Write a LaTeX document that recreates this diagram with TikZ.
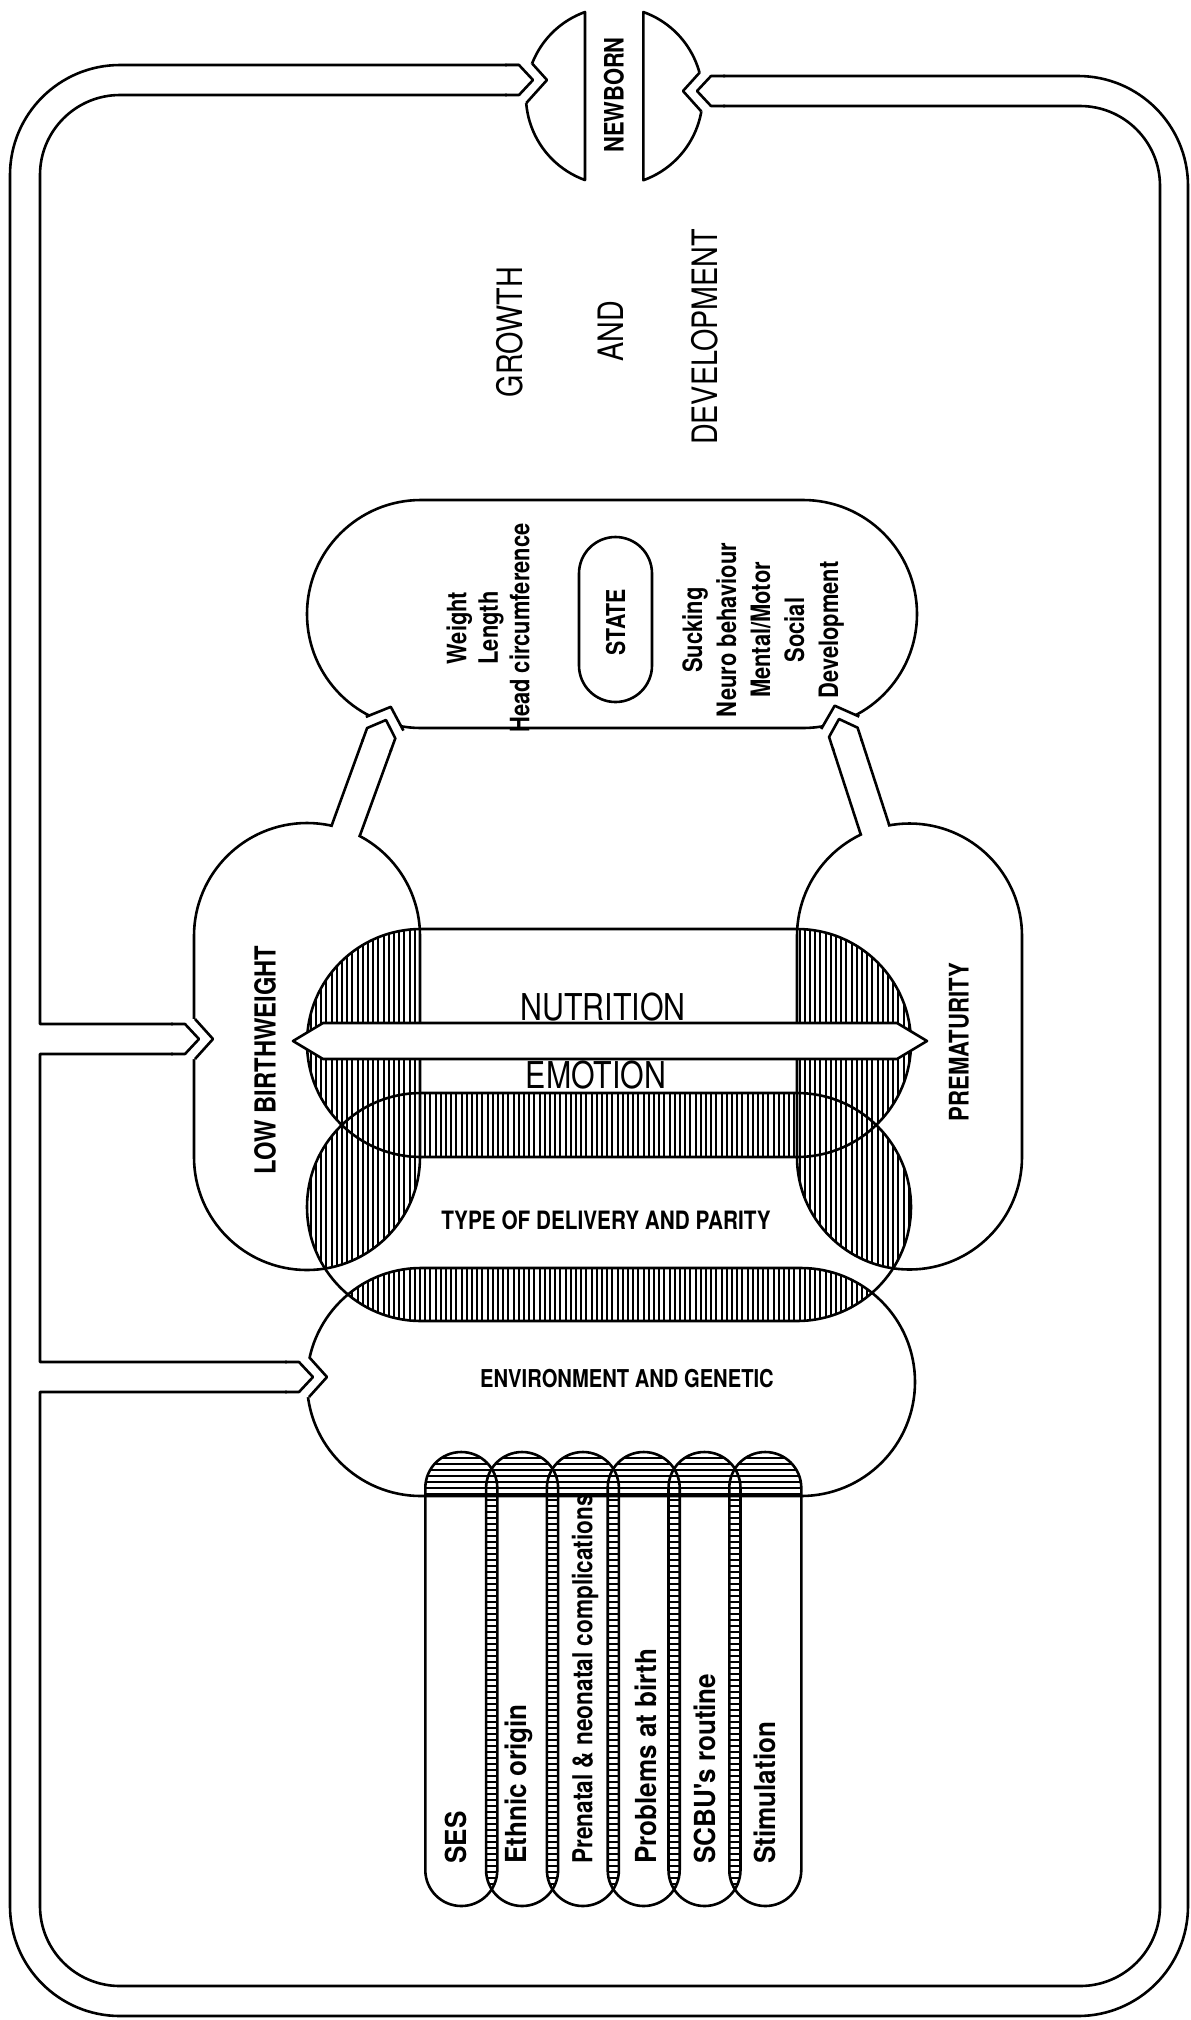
\documentclass[tikz,border=0pt]{standalone}
\usepackage{fontspec}
\setmainfont{TeX Gyre Heros}
\newfontfamily\narrowfont{TeX Gyre Heros}[FakeStretch=0.82]
\newfontfamily\fingerfont{TeX Gyre Heros}[FakeStretch=0.9]
\newcommand{\fsz}[2]{\fontsize{#1}{#2}\selectfont}
% stadium shapes: horizontal (xl, xr, yc, r) and vertical (cx, ytop, ybot, r)
\newcommand{\hstad}[4]{(#1,#3-#4) -- (#2,#3-#4) arc[start angle=-90, end angle=90, radius=#4] -- (#1,#3+#4) arc[start angle=90, end angle=270, radius=#4] -- cycle}
\newcommand{\vstad}[4]{(#1-#4,#2) arc[start angle=180, end angle=360, radius=#4] -- (#1+#4,#3) arc[start angle=0, end angle=180, radius=#4] -- cycle}
\tikzset{outline/.style={line width=0.65mm, line join=round},
  hatchline/.style={line width=0.5mm},
  lbl/.style={inner sep=0pt, align=center},
  vlbl/.style={lbl, rotate=90}}
% pipe coming out of a box, tip at #1, direction #2, length #3
\newcommand{\stem}[3]{%
  \begin{scope}[shift={#1}, rotate=#2]
    \fill[white] (-#3-4,-13.5) rectangle (-#3+3,13.5);
    \draw[outline] (-#3-1,15) -- (-14,15) -- (0,0) -- (-14,-15) -- (-#3-1,-15);
  \end{scope}}
% notch in a box outline where a pipe tip plugs in
\newcommand{\socket}[6]{%
  \begin{scope}[shift={#1}, rotate=#2]
    \fill[white] (#3,#4) -- (14,0) -- (#5,#6) -- (-26,#6) -- (-26,#4) -- cycle;
    \draw[outline] (-28,15) -- (-14,15) -- (0,0) -- (-14,-15) -- (-28,-15);
    \draw[outline] (#3,#4) -- (14,0) -- (#5,#6);
  \end{scope}}

\begin{document}
\begin{tikzpicture}[x=0.25mm, y=-0.25mm]
\fill[white] (0,0) rectangle (1191,2020);
\useasboundingbox (0,0) rectangle (1191,2020);

% vertical hatching
\begin{scope}
  \clip \vstad{307}{936}{1157}{113};
  \clip \hstad{421}{797}{1043}{114} \hstad{421}{797}{1207}{114};
  \foreach \x in {290,295.2,...,935} \draw[hatchline] (\x,900) -- (\x,1340);
\end{scope}
\begin{scope}
  \clip \vstad{909.5}{936}{1157}{112.5};
  \clip \hstad{421}{797}{1043}{114} \hstad{421}{797}{1207}{114};
  \foreach \x in {290,295.2,...,935} \draw[hatchline] (\x,900) -- (\x,1340);
\end{scope}
\begin{scope}
  \clip \hstad{421}{797}{1043}{114};
  \clip \hstad{421}{797}{1207}{114};
  \foreach \x in {290,295.2,...,935} \draw[hatchline] (\x,1080) -- (\x,1170);
\end{scope}
\begin{scope}
  \clip \hstad{421}{797}{1207}{114};
  \clip \hstad{421}{801}{1382}{114};
  \foreach \x in {290,295.2,...,935} \draw[hatchline] (\x,1250) -- (\x,1340);
\end{scope}

% horizontal hatching
\begin{scope}
  \clip \hstad{421}{801}{1382}{114};
  \clip \vstad{461.3}{1488}{1870}{36} \vstad{522.1}{1488}{1870}{36} \vstad{582.9}{1488}{1870}{36}
        \vstad{643.7}{1488}{1870}{36} \vstad{704.5}{1488}{1870}{36} \vstad{765.3}{1488}{1870}{36};
  \foreach \y in {1446,1452,...,1502} \draw[hatchline] (400,\y) -- (820,\y);
\end{scope}
\foreach \a/\b in {461.3/522.1, 522.1/582.9, 582.9/643.7, 643.7/704.5, 704.5/765.3} {
  \begin{scope}
    \clip \vstad{\a}{1488}{1870}{36};
    \clip \vstad{\b}{1488}{1870}{36};
    \foreach \y in {1446,1452,...,1912} \draw[hatchline] (400,\y) -- (820,\y);
  \end{scope}
}

% outlines
\draw[outline] \vstad{307}{936}{1157}{113};
\draw[outline] \vstad{909.5}{936}{1157}{112.5};
\draw[outline] \hstad{421}{797}{1043}{114};
\draw[outline] \hstad{421}{797}{1207}{114};
\draw[outline] \hstad{421}{801}{1382}{114};
\draw[outline] \hstad{421}{803}{614}{114};
\draw[outline] \vstad{615.5}{573.5}{665.5}{36.5};
\foreach \c in {461.3,522.1,582.9,643.7,704.5,765.3}
  \draw[outline] \vstad{\c}{1488}{1870}{36};
\draw[outline] (585,12) arc[start angle=250.2, end angle=109.8, radius=89.3] -- cycle;
\draw[outline] (643.3,12) arc[start angle=-70.4, end angle=70.4, radius=89.3] -- cycle;

% frame with its branches
\draw[outline] (519,65) -- (120,65) arc[start angle=270, end angle=180, radius=110]
  -- (10,1906) arc[start angle=180, end angle=90, radius=110]
  -- (1078,2016) arc[start angle=90, end angle=0, radius=110]
  -- (1188,186) arc[start angle=0, end angle=-90, radius=110]
  -- (711,76) -- (697,91) -- (711,106)
  -- (1080,106) arc[start angle=-90, end angle=0, radius=80]
  -- (1160,1906) arc[start angle=0, end angle=90, radius=80]
  -- (120,1986) arc[start angle=90, end angle=180, radius=80]
  -- (40,1392) -- (299,1392) -- (313,1377) -- (299,1362) -- (40,1362)
  -- (40,1054) -- (185,1054) -- (199,1039) -- (185,1024) -- (40,1024)
  -- (40,175) arc[start angle=180, end angle=270, radius=80]
  -- (519,95) -- (533,80) -- cycle;

\stem{(386,720)}{70}{116}
\stem{(839,719)}{108}{115}
\socket{(533,80)}{0}{-0.85}{-16.5}{-6.7}{23}
\socket{(697,91)}{180}{-4.3}{-20.4}{-2.6}{18.4}
\socket{(199,1039)}{0}{-4}{-20}{-4}{20}
\socket{(313,1377)}{0}{-4}{-20}{-4}{20}
\socket{(386,720)}{70}{-4}{-20}{-4}{20}
\socket{(839,719)}{108}{-4}{-20}{-4}{20}

\draw[outline, fill=white] (323,1023) -- (897,1023) -- (927,1041) -- (897,1059) -- (323,1059) -- (293,1041) -- cycle;

% labels
\node[vlbl, font=\narrowfont\bfseries\fsz{19}{22}] (newborn) at (614,95) {NEWBORN};
\node[vlbl, font=\narrowfont\fsz{24.9}{28}] (growth) at (510,332) {GROWTH};
\node[vlbl, font=\narrowfont\fsz{24.9}{28}] (and) at (611,331) {AND};
\node[vlbl, font=\narrowfont\fsz{24.9}{28}] (devel) at (704.5,337) {DEVELOPMENT};
\node[vlbl, font=\narrowfont\bfseries\fsz{19}{22.4}] (size) at (488,628) {Weight\\Length\\Head circumference};
\node[vlbl, font=\narrowfont\bfseries\fsz{18.5}{22}] (state) at (615.6,622) {STATE};
\node[vlbl, font=\narrowfont\bfseries\fsz{19}{24.2}] (behav) at (763,630) {Sucking\\Neuro behaviour\\Mental/Motor\\Social\\Development};
\node[vlbl, font=\narrowfont\bfseries\fsz{20.6}{24}] (lbw) at (265,1060) {LOW BIRTHWEIGHT};
\node[vlbl, font=\narrowfont\bfseries\fsz{19.2}{24}] (prem) at (959,1042) {PREMATURITY};
\node[lbl, font=\narrowfont\fsz{26.3}{30}] (nutr) at (603,1007) {NUTRITION};
\node[lbl, font=\narrowfont\fsz{26.3}{30}] (emot) at (596,1075) {EMOTION};
\node[lbl, font=\narrowfont\bfseries\fsz{18}{22}] (deliv) at (606,1220) {TYPE OF DELIVERY AND PARITY};
\node[lbl, font=\narrowfont\bfseries\fsz{17.5}{22}] (envir) at (627,1379) {ENVIRONMENT AND GENETIC};
\node[vlbl, anchor=west, font=\fingerfont\bfseries\fsz{20.6}{24}] (ses) at (456,1864) {SES};
\node[vlbl, anchor=west, font=\fingerfont\bfseries\fsz{20.6}{24}] (ethnic) at (519,1864) {Ethnic origin};
\node[vlbl, anchor=west, font=\narrowfont\bfseries\fsz{19.6}{24}] (prenat) at (585,1864) {Prenatal \& neonatal complications};
\node[vlbl, anchor=west, font=\fingerfont\bfseries\fsz{20.6}{24}] (birth) at (646,1864) {Problems at birth};
\node[vlbl, anchor=west, font=\fingerfont\bfseries\fsz{20.6}{24}] (scbu) at (705,1864) {SCBU's routine};
\node[vlbl, anchor=west, font=\fingerfont\bfseries\fsz{20.6}{24}] (stim) at (765,1864) {Stimulation};
\end{tikzpicture}
\end{document}
